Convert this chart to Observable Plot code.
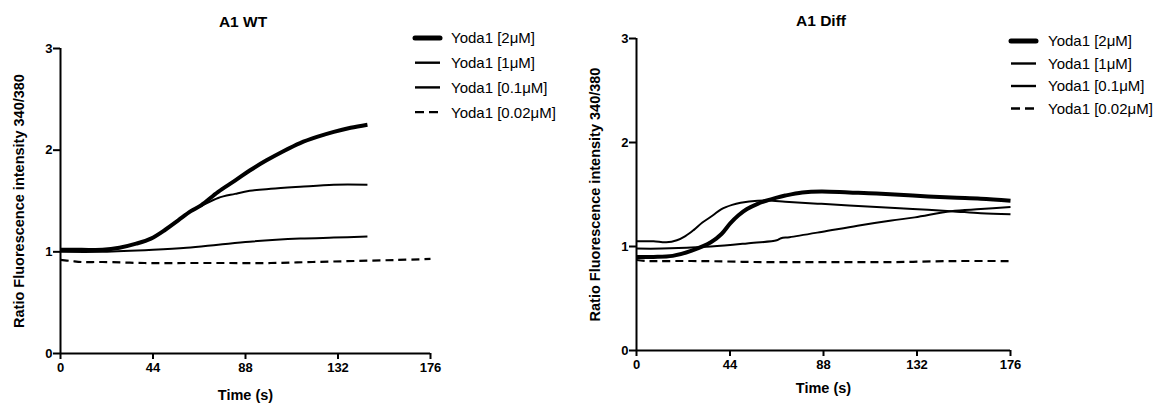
<!DOCTYPE html>
<html>
<head>
<meta charset="utf-8">
<script src="https://cdn.jsdelivr.net/npm/d3@7"></script>
<script src="https://cdn.jsdelivr.net/npm/@observablehq/plot@0.6"></script>
<style>
  html, body { margin: 0; padding: 0; background: #fff; }
  #root { position: relative; width: 1165px; height: 407px; overflow: hidden; font-family: "Liberation Sans", Arial, sans-serif; }
  .panel { position: absolute; top: 0; }
  .legend { position: absolute; }
</style>
</head>
<body>
<div id="root"></div>
<script>
// ---- Data ----
const seriesNames = ["Yoda1 [2μM]", "Yoda1 [1μM]", "Yoda1 [0.1μM]", "Yoda1 [0.02μM]"];
const xTicks = [0, 44, 88, 132, 176];
const yTicks = [0, 1, 2, 3];

// A1 WT
const wt2_t = [0,10,20,28,36,43,50,56,62,67,75,83,90,98,106,114,122,130,138,146];
const wt2_v = [1.02,1.02,1.02,1.04,1.08,1.13,1.22,1.31,1.40,1.46,1.59,1.70,1.80,1.90,1.99,2.07,2.13,2.18,2.22,2.25];
const wt1_t = [0,10,20,28,36,43,50,56,62,67,75,83,90,100,114,130,146];
const wt1_v = [1.02,1.02,1.02,1.04,1.08,1.13,1.22,1.31,1.40,1.45,1.53,1.57,1.60,1.62,1.64,1.66,1.66];
const wt01_t = [0,20,44,60,75,90,114,130,146];
const wt01_v = [1.0,1.0,1.02,1.04,1.07,1.10,1.13,1.14,1.15];
const wt002_t = [0,5,10,20,40,60,80,100,120,140,160,176];
const wt002_v = [0.92,0.91,0.90,0.90,0.89,0.89,0.89,0.89,0.90,0.91,0.92,0.93];

// A1 Diff
const d2_t = [0,8,17,26,35,40,44,48,52,57,61,66,70,78,87,100,113,130,148,162,176];
const d2_v = [0.90,0.90,0.91,0.96,1.04,1.12,1.22,1.30,1.36,1.41,1.44,1.47,1.49,1.52,1.53,1.52,1.51,1.49,1.47,1.46,1.44];
const d1_t = [0,8,14,19,23,27,31,36,40,45,49,57,64,70,87,113,130,148,162,176];
const d1_v = [1.05,1.05,1.04,1.06,1.10,1.16,1.23,1.30,1.36,1.40,1.42,1.44,1.44,1.43,1.41,1.38,1.36,1.34,1.32,1.31];
const d01_t = [0,12,35,52,66,68,72,87,104,120,131,148,162,176];
const d01_v = [0.98,0.98,1.0,1.03,1.06,1.08,1.09,1.14,1.20,1.25,1.28,1.34,1.36,1.38];
const d002_t = [0,5,10,30,60,90,120,150,176];
const d002_v = [0.87,0.86,0.86,0.86,0.85,0.85,0.85,0.86,0.86];

const styles = [
  {width: 4.0, dash: null},
  {width: 2.0, dash: null},
  {width: 2.0, dash: null},
  {width: 2.2, dash: "8,5"}
];

function rows(t, v) { return t.map((x, i) => ({t: x, v: v[i]})); }

function panel({title, series, left, width, mt, mb, ml, mr, labelOffX, labelOffY, titleY}) {
  const lineMarks = series.map((s, i) => Plot.line(s, {
    x: "t", y: "v", stroke: "#000", strokeWidth: styles[i].width,
    strokeDasharray: styles[i].dash || undefined, curve: "catmull-rom",
    strokeLinejoin: "round", strokeLinecap: "butt"
  }));
  const p = Plot.plot({
    width, height: 407,
    marginTop: mt, marginBottom: mb, marginLeft: ml, marginRight: mr,
    style: {fontFamily: "Liberation Sans, Arial, sans-serif", fontSize: "13px", fontWeight: "bold", background: "white", overflow: "visible"},
    x: {domain: [0, 176]},
    y: {domain: [0, 3]},
    marks: [
      Plot.axisX({ticks: xTicks, tickFormat: d3.format("d"), tickSize: 6, tickPadding: 3, strokeWidth: 2, fill: "#000",
        label: "Time (s)", labelAnchor: "center", labelArrow: "none", labelOffset: labelOffX}),
      Plot.axisY({ticks: yTicks, tickFormat: d3.format("d"), tickSize: 7, tickPadding: 1, strokeWidth: 2, fill: "#000",
        label: "Ratio Fluorescence intensity 340/380", labelAnchor: "center", labelArrow: "none", labelOffset: labelOffY}),
      Plot.ruleX([0], {y1: 0, y2: 3, strokeWidth: 2}),
      Plot.ruleY([0], {x1: 0, x2: 176, strokeWidth: 2}),
      ...lineMarks
    ]
  });
  d3.select(p).selectAll("text").attr("font-weight", "bold").attr("font-size", 13);
  d3.select(p).selectAll("g[aria-label='x-axis label'] text, g[aria-label='y-axis label'] text")
    .attr("font-weight", "bold").attr("font-size", 14.5);
  const div = document.createElement("div");
  div.className = "panel";
  div.style.left = left + "px";
  div.appendChild(p);
  const svg = d3.select(p);
  svg.append("text").attr("x", ml + (width - ml - mr) / 2 - 2).attr("y", titleY)
    .attr("text-anchor", "middle").attr("font-weight", "bold").attr("font-size", 15.5).text(title);
  return div;
}

function legend({left, top, rowH, lineW, gap}) {
  const div = document.createElement("div");
  div.className = "legend";
  div.style.left = left + "px";
  div.style.top = (top - 6) + "px";
  const svg = d3.create("svg").attr("width", 175).attr("height", rowH * 4 + 20)
    .style("font-family", "Liberation Sans, Arial, sans-serif");
  seriesNames.forEach((name, i) => {
    const y = 12 + i * rowH;
    svg.append("line").attr("x1", 3).attr("x2", 3 + lineW).attr("y1", y).attr("y2", y)
      .attr("stroke", "#000").attr("stroke-width", i === 0 ? 5 : 2.4)
      .attr("stroke-linecap", i === 0 ? "round" : "butt")
      .attr("stroke-dasharray", styles[i].dash ? "9,5" : null);
    svg.append("text").attr("x", 3 + lineW + gap).attr("y", y).attr("dy", "0.36em")
      .attr("font-size", 15).text(name);
  });
  div.appendChild(svg.node());
  return div;
}

const root = document.getElementById("root");
root.appendChild(panel({
  title: "A1 WT",
  series: [rows(wt2_t, wt2_v), rows(wt1_t, wt1_v), rows(wt01_t, wt01_v), rows(wt002_t, wt002_v)],
  left: 0, width: 450, mt: 48, mb: 54, ml: 60, mr: 20, labelOffX: 46, labelOffY: 47, titleY: 27
}));
root.appendChild(panel({
  title: "A1 Diff",
  series: [rows(d2_t, d2_v), rows(d1_t, d1_v), rows(d01_t, d01_v), rows(d002_t, d002_v)],
  left: 580, width: 450, mt: 38, mb: 57, ml: 56, mr: 20, labelOffX: 42, labelOffY: 47, titleY: 26
}));
root.appendChild(legend({left: 412, top: 32, rowH: 24.7, lineW: 25, gap: 11}));
root.appendChild(legend({left: 1008, top: 35, rowH: 22.5, lineW: 25, gap: 12}));
</script>
</body>
</html>
